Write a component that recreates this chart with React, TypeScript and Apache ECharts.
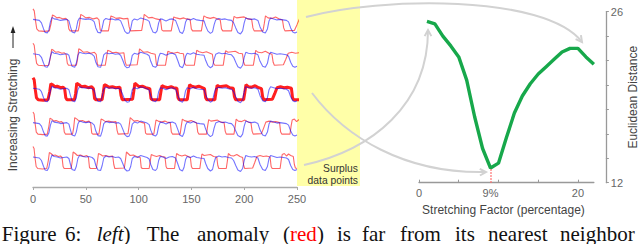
import React, { useEffect, useRef } from 'react';
import * as echarts from 'echarts';

// ---------- data ----------
const leftTickValues = [0, 50, 100, 150, 200, 250];
// stretching of the anomaly for each row, top to bottom
const stretchFactors = [0.19, 0.14, 0.09, 0.04, 0];
const matchedRow = 2;

// nearest neighbour (blue), [time, value]
const blueSeries: [number, number][] = [
  [0, 13.5], [3, 13], [6, 12.5], [8, 10], [10, 4], [11.5, 0.5], [13.5, 0], [15, 3], [16.5, 11], [18, 15.5], [20, 14], [23, 13.5], [26, 12.5], [29, 13], [32, 13.5], [34, 12],
  [35.5, 6], [37, 1], [39.5, 0], [41, 4], [42.5, 12], [44, 15], [47, 14], [50, 13.5], [53, 14], [56, 13], [58, 11],
  [59.5, 5], [61.5, 0.5], [64, 0], [65.5, 5], [67, 12.5], [69, 14.5], [72, 13.5], [75, 14], [78, 13], [81, 13.5], [83, 12],
  [85, 7], [87, 1.5], [89, -0.5], [91, 0], [92.5, 4], [94, 12], [96, 14], [99, 13], [102, 15], [105, 14], [108, 13], [110, 11.5],
  [111.5, 6], [113.5, 1], [116, 0], [117.5, 2], [119, 10], [120.5, 14], [123, 13.5], [126, 12], [129, 13.5], [132, 14], [135, 12.5],
  [137, 7], [139, 1], [141.5, -0.5], [143, 3], [144.5, 11], [146, 14], [149, 13], [152, 14.5], [155, 13], [158, 12.5], [162, 12],
  [163.5, 7], [165.5, 2], [168, -0.5], [170, 1], [171.5, 8], [173, 13], [176, 14.5], [179, 13.5], [182, 14], [185, 13], [188, 12.5], [190, 10],
  [192, 5], [194, 0.5], [196.5, -1], [198.5, 2], [200, 10], [201.5, 15], [204, 14], [207, 13.5], [210, 14], [213, 12.5],
  [215, 6], [217.5, 1], [220, 0], [222, 4], [223.5, 12], [225, 15], [228, 14], [231, 13], [234, 13.5], [237, 13], [240, 12.5], [242, 11],
  [244, 5], [246, 1], [248, 0], [250, 1],
];

// anomaly (red), unstretched, [time, value]
const redSeries: [number, number][] = [
  [0, 24], [1, 22], [2, 12], [3, 4], [4.5, 2], [9, 1.5], [13, 2], [14.5, 10], [15.5, 18], [17, 17], [19, 15], [21, 15.5], [24, 14], [26, 14.5], [27.5, 13],
  [28.5, 4], [29.5, 2], [36, 2], [37, 8], [38, 18.5], [40, 17], [42, 15], [45, 15.5], [48, 14], [51, 15], [52.5, 13],
  [53.5, 3], [54.5, 2], [60, 2], [61, 9], [62, 17], [64, 16], [66, 14.5], [69, 15], [72, 14], [75.5, 14.5],
  [76.5, 6], [77.5, 2], [86.5, 2.5], [87.5, 10], [88.5, 18.5], [90, 17], [92, 15], [95, 15.5], [98, 14], [101.5, 13],
  [102.5, 3], [103.5, 2], [110, 2], [111, 9], [112, 16], [114, 15], [117, 14], [120, 15], [122, 14], [125, 13.5],
  [126, 4], [127, 2], [134, 2], [135, 10], [136, 17], [138, 15.5], [141, 14.5], [144, 15.5], [147, 14], [149, 13],
  [150, 4], [151, 2], [158, 2], [159, 10], [160, 16.5], [162, 15], [165, 15.5], [168, 16], [171, 14], [174, 13.5],
  [175, 5], [176, 2], [183, 2], [184, 9], [185, 17], [187, 15], [190, 14.5], [193, 16], [196, 14], [198.5, 13],
  [199.5, 5], [200.5, 2], [208, 2.5], [210, 8], [212, 14], [215, 15], [218, 14], [221, 14.5], [224.5, 13.5],
  [225.5, 4], [226.5, 2], [234, 2], [235, 10], [236, 16], [238, 17], [240, 14.5], [242, 16.5], [244, 15], [246.5, 14],
  [247.5, 6], [248.5, 2.5], [250, 2],
];

// right panel
const stretchPct = [1, 2, 3, 4, 5, 6, 7, 8, 9, 10, 11, 12, 13, 14, 15, 16, 17, 18, 19, 20, 21, 22];
const euclidean = [25.2, 25.0, 24.0, 23.2, 22.3, 20.4, 17.4, 14.8, 13.2, 13.6, 15.7, 17.7, 19.1, 20.1, 20.9, 21.5, 22.1, 22.7, 23.0, 23.0, 22.3, 21.7];
const bestStretch = 9;
const rightXTicks = [0, 5, 10, 15, 20];
const rightXLabels = [0, 9, 20];
const rightYLabels = [12, 26];

// caption words: [text, left x, style]
const captionWords: [string, number, string][] = [
  ['Figure', 1.7, 'n'], ['6:', 65, 'n'], ['left', 96.7, 'i'], [')', 123.5, 'n'], ['The', 146.7, 'n'],
  ['anomaly', 197, 'n'], ['(', 283, 'n'], ['red', 290, 'r'], [')', 317, 'n'], ['is', 337, 'n'],
  ['far', 362, 'n'], ['from', 400, 'n'], ['its', 455, 'n'], ['nearest', 488, 'n'], ['neighbor', 560, 'n'],
];

const SANS = "'Liberation Sans', Arial, sans-serif";
const SERIF = "'Liberation Serif', 'Times New Roman', serif";

function arrowHead(x: number, y: number, dx: number, dy: number, len = 7, ang = 0.5) {
  const a = Math.atan2(dy, dx);
  const p1 = [x - len * Math.cos(a - ang), y - len * Math.sin(a - ang)];
  const p2 = [x - len * Math.cos(a + ang), y - len * Math.sin(a + ang)];
  return { type: 'polyline', z: 1, shape: { points: [p1, [x, y], p2] }, style: { stroke: '#d2d2d2', lineWidth: 2, fill: 'none' }, silent: true };
}

export default function App() {
  const ref = useRef<HTMLDivElement>(null);
  useEffect(() => {
    const el = ref.current!;
    const chart = echarts.init(el, null, { renderer: 'svg' });
    const grids: any[] = [];
    const xAxes: any[] = [];
    const yAxes: any[] = [];
    const series: any[] = [];
    const leftX = 33, leftW = 264, rowTop = 2, rowH = 34.4;
    stretchFactors.forEach((s, i) => {
      const isBottom = i === stretchFactors.length - 1;
      grids.push({ left: leftX, top: rowTop + i * rowH, width: leftW, height: rowH });
      xAxes.push({
        type: 'value', gridIndex: i, min: leftTickValues[0], max: leftTickValues[leftTickValues.length - 1], interval: 50,
        show: isBottom, offset: isBottom ? 13 : 0, position: 'bottom',
        axisLine: { show: true, onZero: false, lineStyle: { color: '#aaaaaa', width: 1.3 } },
        axisTick: { show: true, length: 3, lineStyle: { color: '#aaaaaa' } },
        axisLabel: { color: '#666', fontSize: 11, margin: 6, fontFamily: SANS },
        splitLine: { show: false },
      });
      yAxes.push({ type: 'value', gridIndex: i, min: -3.5, max: 30.9, show: false, axisLine: { onZero: false }, splitLine: { show: false } });
      const isMatch = i === matchedRow;
      series.push({
        type: 'line', xAxisIndex: i, yAxisIndex: i, symbol: 'none', clip: false, silent: true, z: isMatch ? 4 : 3,
        data: redSeries.map(([t, v]) => [t * (1 + s), v]),
        lineStyle: { color: '#ff0000', width: isMatch ? 3 : 1.1, opacity: isMatch ? 0.88 : 0.6 },
      });
      series.push({
        type: 'line', xAxisIndex: i, yAxisIndex: i, symbol: 'none', clip: false, silent: true, z: 5,
        data: blueSeries,
        lineStyle: { color: '#0000ff', width: 1.1, opacity: 0.55 },
      });
    });
    // right panel
    grids.push({ left: 419, top: 11.7, width: 191, height: 171 });
    xAxes.push({
      type: 'value', gridIndex: 5, min: 0, max: 22, position: 'bottom',
      axisLine: { show: true, onZero: false, lineStyle: { color: '#999999', width: 1.3 } },
      axisTick: { show: true, inside: true, length: 3, customValues: rightXTicks, lineStyle: { color: '#999' } },
      axisLabel: { customValues: rightXLabels, color: '#666', fontSize: 11, margin: 5, fontFamily: SANS,
        formatter: (v: number) => (v === bestStretch ? `${v}%` : String(v)) },
      splitLine: { show: false },
      name: 'Stretching Factor (percentage)', nameLocation: 'middle', nameGap: 11,
      nameTextStyle: { color: '#444', fontSize: 12, fontFamily: SANS, padding: [0, 6, 0, 0] },
    });
    yAxes.push({
      type: 'value', gridIndex: 5, min: 12, max: 26, interval: 2, position: 'right', offset: 12,
      axisLine: { show: true, onZero: false, lineStyle: { color: '#999999', width: 1.3 } },
      axisTick: { show: true, length: 3, lineStyle: { color: '#999' } },
      axisLabel: { customValues: rightYLabels, color: '#666', fontSize: 11, margin: 5, fontFamily: SANS, padding: [7, 0, 0, 0] },
      splitLine: { show: false },
      name: 'Euclidean Distance', nameLocation: 'middle', nameGap: 9, nameRotate: 90,
      nameTextStyle: { color: '#444', fontSize: 12, fontFamily: SANS },
    });
    series.push({
      type: 'line', xAxisIndex: 5, yAxisIndex: 5, symbol: 'none', silent: true, z: 3,
      data: stretchPct.map((p, i) => [p, euclidean[i]]),
      lineStyle: { color: '#17a84b', width: 3.4 },
      markLine: {
        silent: true, symbol: 'none', label: { show: false },
        lineStyle: { color: '#ff6a6a', type: 'dotted', width: 1.5 },
        data: [[{ coord: [bestStretch, 12] }, { coord: [bestStretch, euclidean[stretchPct.indexOf(bestStretch)]] }]],
      },
    });

    chart.setOption({
      animation: false,
      grid: grids, xAxis: xAxes, yAxis: yAxes, series,
    });

    const x250 = chart.convertToPixel({ xAxisIndex: 0 }, 250) as number;
    const graphic: any[] = [
      { type: 'rect', z: -1, silent: true, shape: { x: x250, y: 0, width: 63, height: 186 }, style: { fill: '#ffffa8' } },
      // arcs
      { type: 'bezierCurve', z: 1, silent: true, shape: { x1: 306, y1: 17, cpx1: 380, cpy1: -3, cpx2: 545, cpy2: -6, x2: 582, y2: 42 }, style: { stroke: '#d2d2d2', lineWidth: 2, fill: 'none' } },
      arrowHead(582, 42, 37, 48),
      { type: 'bezierCurve', z: 1, silent: true, shape: { x1: 304, y1: 165, cpx1: 372, cpy1: 150, cpx2: 428, cpy2: 105, x2: 428, y2: 30 }, style: { stroke: '#d2d2d2', lineWidth: 2, fill: 'none' } },
      arrowHead(428, 30, 0, -75),
      { type: 'bezierCurve', z: 1, silent: true, shape: { x1: 312, y1: 93, cpx1: 345, cpy1: 137, cpx2: 405, cpy2: 174, x2: 486, y2: 172 }, style: { stroke: '#d2d2d2', lineWidth: 2, fill: 'none' } },
      arrowHead(486, 172, 81, -2),
      // surplus label
      { type: 'text', z: 10, x: 358, y: 168, style: { text: 'Surplus', fontSize: 10.3, fontFamily: SANS, fill: '#333', align: 'right', verticalAlign: 'middle' } },
      { type: 'text', z: 10, x: 358, y: 180, style: { text: 'data points', fontSize: 10.3, fontFamily: SANS, fill: '#333', align: 'right', verticalAlign: 'middle' } },
      // left axis title + arrow
      { type: 'text', z: 10, x: 13, y: 115, rotation: Math.PI / 2, style: { text: 'Increasing Stretching', fontSize: 12, fontFamily: SANS, fill: '#444', align: 'center', verticalAlign: 'middle' } },
      { type: 'line', z: 10, shape: { x1: 13, y1: 48, x2: 13, y2: 31 }, style: { stroke: '#222', lineWidth: 1 } },
      { type: 'polygon', z: 10, shape: { points: [[13, 26], [10.6, 33], [15.4, 33]] }, style: { fill: '#222' } },
    ];
    captionWords.forEach(([w, x, st]) => {
      graphic.push({
        type: 'text', z: 10, x, y: 233.5,
        style: {
          text: w, fontSize: 21, fontFamily: SERIF, fontStyle: st === 'i' ? 'italic' : 'normal',
          fill: st === 'r' ? '#ff0000' : '#111', align: 'left', verticalAlign: 'middle',
        },
      });
    });
    chart.setOption({ graphic });

    return () => chart.dispose();
  }, []);
  return <div ref={ref} style={{ position: 'absolute', left: 0, top: 0, width: 640, height: 244 }} />;
}
